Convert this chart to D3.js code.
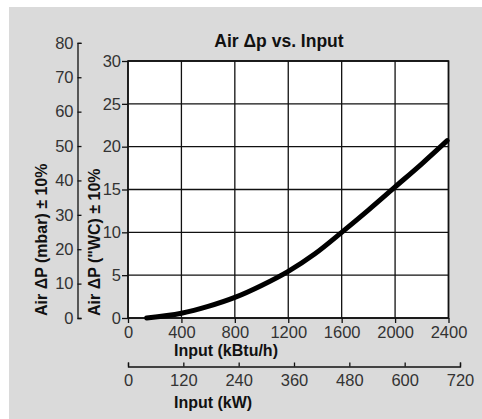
<!DOCTYPE html>
<html>
<head>
<meta charset="utf-8">
<script src="https://cdn.jsdelivr.net/npm/d3@7"></script>
<style>
  body { margin: 0; background: #fff; }
  svg { display: block; font-family: "Liberation Sans", Arial, Helvetica, sans-serif; }
  .axis path, .axis line { stroke: #111; stroke-width: 1.3px; }
  .label { font-weight: bold; font-size: 16px; fill: #111; }
</style>
</head>
<body>
<div id="chart"></div>
<script>
// ---------- data ----------
const inputKbtu = [140, 400,  600,  800, 1000, 1200, 1400, 1600, 1800, 2000, 2200, 2390];
const airDpWC   = [0,   0.55, 1.35, 2.4, 3.8,  5.45, 7.5,  10.0, 12.6, 15.3, 18.0, 20.7];

const wcTicks   = [0, 5, 10, 15, 20, 25, 30];
const mbarTicks = [0, 10, 20, 30, 40, 50, 60, 70, 80];
const kbtuTicks = [0, 400, 800, 1200, 1600, 2000, 2400];
const kwTicks   = [0, 120, 240, 360, 480, 600, 720];

const titleText = "Air Δp vs. Input";

// ---------- sizes ----------
const svgWidth = 482;
const svgHeight = 419;

const plot = { left: 128, right: 448.5, top: 61, bottom: 318 };

const svg = d3.select("#chart")
  .append("svg")
  .attr("width", svgWidth)
  .attr("height", svgHeight);

// grey panel
svg.append("rect")
  .attr("x", 9).attr("y", 7)
  .attr("width", svgWidth - 9).attr("height", svgHeight - 7)
  .attr("fill", "#dadada");

// ---------- scales ----------
const xScale = d3.scaleLinear().domain([0, 2400]).range([plot.left, plot.right]);
const yScale = d3.scaleLinear().domain([0, 30]).range([plot.bottom, plot.top]);
// 1 "WC = 2.4909 mbar, so the mbar axis follows the same pixels
const yMbar = d3.scaleLinear()
  .domain([0, 80])
  .range([plot.bottom, yScale(80 / 2.4909)]);
const xKw = d3.scaleLinear().domain([0, 720]).range([plot.left, 460]);

const fmt = d3.format("d");

// plot area
svg.append("rect")
  .attr("x", plot.left).attr("y", plot.top)
  .attr("width", plot.right - plot.left)
  .attr("height", plot.bottom - plot.top)
  .attr("fill", "#fff");

// grid
svg.append("g")
  .selectAll("line.vgrid")
  .data(kbtuTicks)
  .enter()
  .append("line")
  .attr("x1", d => xScale(d)).attr("x2", d => xScale(d))
  .attr("y1", plot.top).attr("y2", plot.bottom)
  .attr("stroke", "#111").attr("stroke-width", 1.3);

svg.append("g")
  .selectAll("line.hgrid")
  .data(wcTicks)
  .enter()
  .append("line")
  .attr("x1", plot.left).attr("x2", plot.right)
  .attr("y1", d => yScale(d)).attr("y2", d => yScale(d))
  .attr("stroke", "#111").attr("stroke-width", 1.3);

svg.append("rect")
  .attr("x", plot.left).attr("y", plot.top)
  .attr("width", plot.right - plot.left)
  .attr("height", plot.bottom - plot.top)
  .attr("fill", "none")
  .attr("stroke", "#111").attr("stroke-width", 1.6);

// ---------- axes ----------
function styleAxis(g) {
  g.attr("font-family", "'Liberation Sans', Arial, Helvetica, sans-serif")
    .attr("font-size", 16.5);
  g.selectAll(".tick text").attr("fill", "#333");
}

svg.append("g")
  .attr("class", "axis")
  .attr("transform", `translate(${plot.left},0)`)
  .call(d3.axisLeft(yScale).tickValues(wcTicks).tickFormat(fmt)
    .tickSizeInner(6).tickSizeOuter(0).tickPadding(1))
  .call(g => g.select(".domain").remove())
  .call(styleAxis);

svg.append("g")
  .attr("class", "axis")
  .attr("transform", `translate(0,${plot.bottom})`)
  .call(d3.axisBottom(xScale).tickValues(kbtuTicks).tickFormat(fmt)
    .tickSizeInner(5).tickSizeOuter(0).tickPadding(3.5))
  .call(g => g.select(".domain").remove())
  .call(styleAxis);

svg.append("g")
  .attr("class", "axis")
  .attr("transform", "translate(77.5,0)")
  .call(d3.axisLeft(yMbar).tickValues(mbarTicks).tickFormat(fmt)
    .tickSizeInner(-4).tickSizeOuter(-4).tickPadding(4))
  .call(styleAxis);

svg.append("g")
  .attr("class", "axis")
  .attr("transform", "translate(0,366.5)")
  .call(d3.axisBottom(xKw).tickValues(kwTicks).tickFormat(fmt)
    .tickSizeInner(-4).tickSizeOuter(-4).tickPadding(7.5))
  .call(styleAxis);

// ---------- curve ----------
const points = inputKbtu.map((d, i) => [d, airDpWC[i]]);

const line = d3.line()
  .x(d => xScale(d[0]))
  .y(d => yScale(d[1]))
  .curve(d3.curveMonotoneX);

svg.append("path")
  .datum(points)
  .attr("d", line)
  .attr("fill", "none")
  .attr("stroke", "#000")
  .attr("stroke-width", 5)
  .attr("stroke-linecap", "round")
  .attr("stroke-linejoin", "round");

// ---------- labels ----------
svg.append("text")
  .attr("class", "label")
  .attr("x", 279).attr("y", 46.5)
  .attr("text-anchor", "middle")
  .style("font-size", "17.5px")
  .text(titleText);

svg.append("text")
  .attr("class", "label")
  .attr("x", 174).attr("y", 355.5)
  .text("Input (kBtu/h)");

svg.append("text")
  .attr("class", "label")
  .attr("x", 174).attr("y", 408)
  .text("Input (kW)");

svg.append("text")
  .attr("class", "label")
  .attr("transform", "rotate(-90)")
  .attr("x", -316).attr("y", 47)
  .text("Air ΔP (mbar) ± 10%");

svg.append("text")
  .attr("class", "label")
  .attr("transform", "rotate(-90)")
  .attr("x", -316).attr("y", 100)
  .text("Air ΔP (\"WC) ± 10%");
</script>
</body>
</html>
